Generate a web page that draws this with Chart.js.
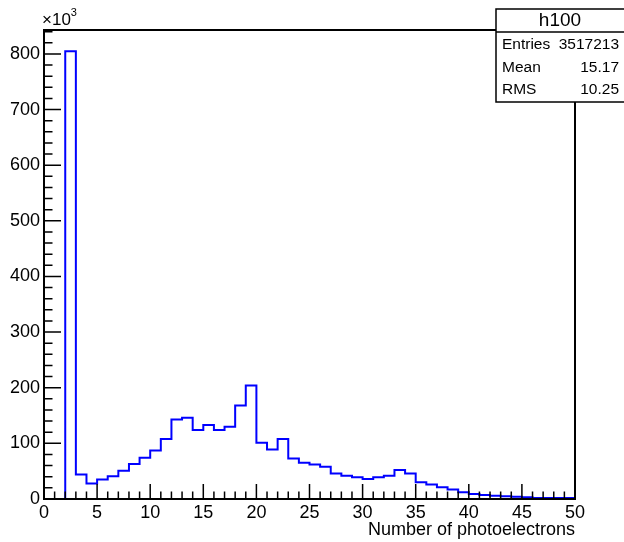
<!DOCTYPE html>
<html>
<head>
<meta charset="utf-8">
<script src="https://cdn.jsdelivr.net/npm/chart.js@4/dist/chart.umd.min.js"></script>
<style>
  body { margin: 0; background: #fff; }
  canvas { display: block; }
</style>
</head>
<body>
<canvas id="histChart" width="624" height="542"></canvas>
<script>
// bin low edges (width 1) and contents in units of 10^3
const binEdges = [];
for (let i = 0; i <= 50; i++) binEdges.push(i);
const binCounts = [
    0, 0, 805, 44, 28, 35, 41, 51, 63, 74,
    87, 108, 143, 146, 124, 133, 124, 130, 168, 204,
    101, 89, 108, 73, 65, 62, 58, 46, 42, 39,
    36, 39, 42, 52, 46, 30, 26, 21, 17, 12,
    9, 7, 6, 5, 4, 3, 2, 2, 2, 2
];
const xTicks = [0, 5, 10, 15, 20, 25, 30, 35, 40, 45, 50];
const yTicks = [0, 100, 200, 300, 400, 500, 600, 700, 800];
const statLabels = ['Entries', 'Mean', 'RMS'];
const statValues = ['3517213', '15.17', '10.25'];
const histName = 'h100';

const FONT = '"Liberation Sans", Arial, Helvetica, sans-serif';

// stepped outline: one point per bin edge, last edge repeats last bin
const points = binCounts.map((v, i) => ({ x: binEdges[i], y: v }));
points.push({ x: binEdges[binEdges.length - 1], y: binCounts[binCounts.length - 1] });

const rootStyle = {
    id: 'rootStyle',
    afterDraw(chart) {
        const { ctx, chartArea: a, scales: { x, y } } = chart;
        ctx.save();
        ctx.strokeStyle = '#000';

        // inward ticks
        ctx.lineWidth = 1.5;
        ctx.beginPath();
        for (let v = 0; v <= 50; v += 1) {
            const px = x.getPixelForValue(v);
            const len = v % 5 === 0 ? 15 : 7.5;
            ctx.moveTo(px, a.bottom);
            ctx.lineTo(px, a.bottom - len);
        }
        for (let v = 0; v <= y.max; v += 20) {
            const py = y.getPixelForValue(v);
            const len = v % 100 === 0 ? 17 : 8.5;
            ctx.moveTo(a.left, py);
            ctx.lineTo(a.left + len, py);
        }
        ctx.stroke();

        // frame
        ctx.lineWidth = 2;
        ctx.strokeRect(a.left, a.top, a.right - a.left, a.bottom - a.top);

        // x10^3 label
        ctx.fillStyle = '#000';
        ctx.textBaseline = 'alphabetic';
        ctx.textAlign = 'left';
        ctx.font = '17px ' + FONT;
        ctx.fillText('\u00d710', a.left - 2, 25);
        const w = ctx.measureText('\u00d710').width;
        ctx.font = '11px ' + FONT;
        ctx.fillText('3', a.left - 2 + w, 16);

        // stats box
        const bx = 496, by = 9, bw = 140, bh = 93;
        ctx.fillStyle = '#fff';
        ctx.fillRect(bx, by, bw, bh);
        ctx.lineWidth = 1.5;
        ctx.strokeRect(bx, by, bw, bh);
        ctx.beginPath();
        ctx.moveTo(bx, 32);
        ctx.lineTo(bx + bw, 32);
        ctx.stroke();
        ctx.fillStyle = '#000';
        ctx.textBaseline = 'middle';
        ctx.textAlign = 'center';
        ctx.font = '19px ' + FONT;
        ctx.fillText(histName, 560, 21);
        ctx.font = '15.5px ' + FONT;
        const rowY = [45, 68, 90];
        statLabels.forEach((lab, i) => {
            ctx.textAlign = 'left';
            ctx.fillText(lab, 502, rowY[i]);
            ctx.textAlign = 'right';
            ctx.fillText(statValues[i], 619, rowY[i]);
        });
        ctx.restore();
    }
};

new Chart(document.getElementById('histChart'), {
    type: 'line',
    data: {
        datasets: [{
            label: histName,
            data: points,
            stepped: 'before',
            borderColor: '#0000ff',
            borderWidth: 2,
            pointRadius: 0,
            fill: false,
            tension: 0
        }]
    },
    options: {
        responsive: false,
        animation: false,
        layout: { padding: { top: 30, right: 49, left: 0, bottom: 0 } },
        plugins: {
            legend: { display: false },
            title: { display: false },
            tooltip: { enabled: false }
        },
        scales: {
            x: {
                type: 'linear',
                min: 0,
                max: 50,
                afterFit: s => { s.height = 43; },
                afterBuildTicks: s => { s.ticks = xTicks.map(v => ({ value: v })); },
                grid: { display: false, drawTicks: false },
                border: { display: false },
                ticks: {
                    color: '#000',
                    padding: 3,
                    maxRotation: 0,
                    autoSkip: false,
                    font: { family: FONT, size: 18 }
                },
                title: {
                    display: true,
                    text: 'Number of photoelectrons',
                    align: 'end',
                    color: '#000',
                    padding: { top: 0, bottom: 1 },
                    font: { family: FONT, size: 18 }
                }
            },
            y: {
                type: 'linear',
                min: 0,
                max: 843,
                afterFit: s => { s.width = 44; },
                afterBuildTicks: s => { s.ticks = yTicks.map(v => ({ value: v })); },
                grid: { display: false, drawTicks: false },
                border: { display: false },
                ticks: {
                    color: '#000',
                    padding: 4,
                    autoSkip: false,
                    font: { family: FONT, size: 18 }
                }
            }
        }
    },
    plugins: [rootStyle]
});
</script>
</body>
</html>
